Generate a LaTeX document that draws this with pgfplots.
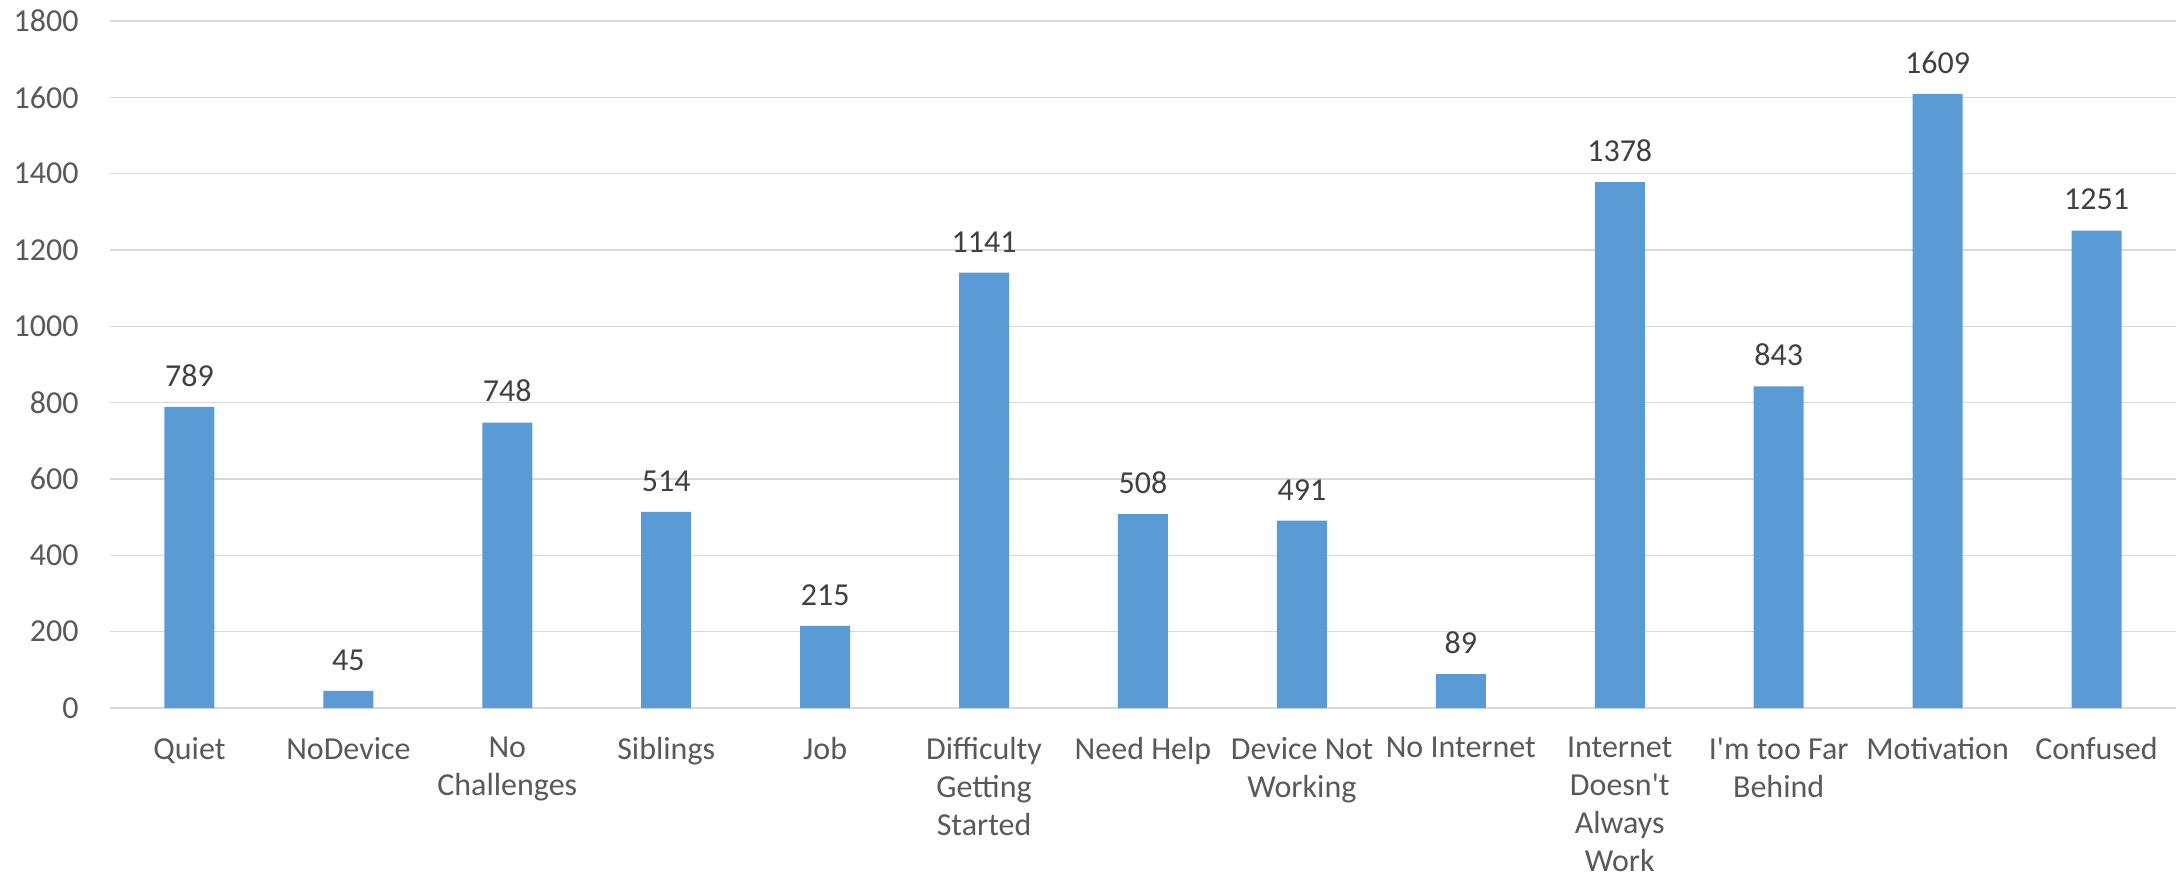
\documentclass[border=0pt]{standalone}
\usepackage{fontspec}
\setmainfont{Carlito}
\usepackage{pgfplots}
\pgfplotsset{compat=1.18}
\definecolor{barblue}{HTML}{5B9BD5}
\definecolor{ticktext}{HTML}{595959}
\definecolor{labeltext}{HTML}{404040}
\definecolor{gridgray}{HTML}{D9D9D9}
\begin{document}
\begin{tikzpicture}
\begin{axis}[
  scale only axis,
  width=1033pt, height=343.5pt,
  ybar, bar width=25pt,
  xmin=-0.5, xmax=12.5,
  ymin=0, ymax=1800,
  ytick={0,200,...,1800},
  xtick={0,...,12},
  xticklabels={Quiet,NoDevice,{No\\Challenges},Siblings,Job,{Difficulty\\Getting\\Started},Need Help,{Device Not\\Working},No Internet,{Internet\\Doesn\textquotesingle t\\Always\\Work},{I\textquotesingle m too Far\\Behind},Motivation,Confused},
  axis line style={draw=none},
  major tick length=0pt,
  tick style={draw=none},
  ymajorgrids,
  grid style={gridgray, line width=0.75pt},
  /pgf/number format/assume math mode=true,
  /pgf/number format/1000 sep={},
  yticklabel style={font=\fontsize{16}{19.5}\selectfont, text=ticktext, inner sep=0pt, anchor=east, xshift=-15.5pt},
  xticklabel style={font=\fontsize{16}{19}\selectfont, text=ticktext, inner sep=0pt, anchor=north, align=center, yshift=-14.5pt},
  nodes near coords,
  every node near coord/.append style={font=\fontsize{16}{19.5}\selectfont, text=labeltext, inner sep=0pt, anchor=south, yshift=10pt},
  clip=false,
]
\addplot[fill=barblue, draw=none] coordinates {
  (0,789) (1,45) (2,748) (3,514) (4,215) (5,1141) (6,508)
  (7,491) (8,89) (9,1378) (10,843) (11,1609) (12,1251)
};
\end{axis}
\pgfresetboundingbox
\path (-55pt,-85.5pt) rectangle (1034pt,354pt);
\end{tikzpicture}
\end{document}
